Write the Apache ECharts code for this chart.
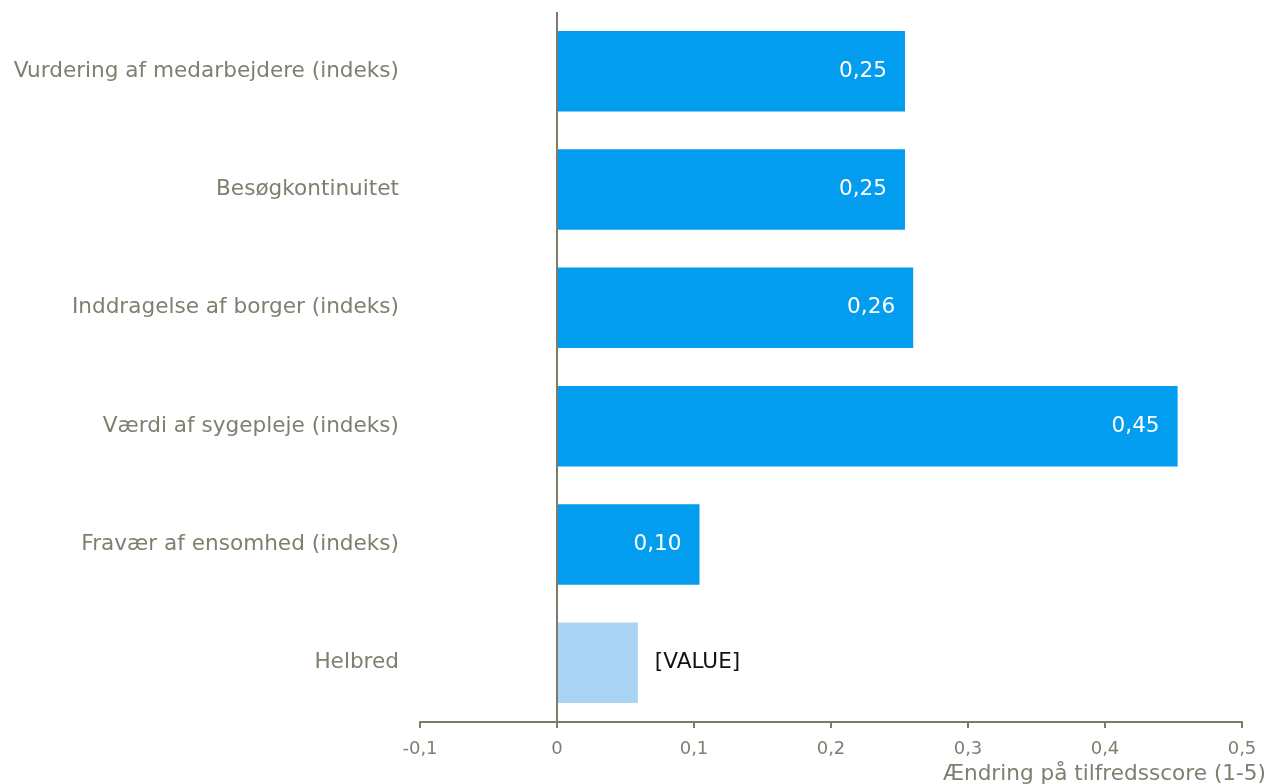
<!DOCTYPE html>
<html><head><meta charset="utf-8">
<script src="https://cdn.jsdelivr.net/npm/echarts@6/dist/echarts.min.js"></script>
<style>html,body{margin:0;padding:0;background:#fff}#c{width:1269px;height:784px}</style>
</head><body><div id="c"></div>
<script>
const categories = ["Helbred","Fravær af ensomhed (indeks)","Værdi af sygepleje (indeks)","Inddragelse af borger (indeks)","Besøgkontinuitet","Vurdering af medarbejdere (indeks)"];
const values = [0.059, 0.104, 0.453, 0.26, 0.254, 0.254];
const labelTexts = ["[VALUE]", null, null, null, null, null];
const xTicks = { min: -0.1, max: 0.5, interval: 0.1 };
const axisName = "Ændring på tilfredsscore (1-5)";

const txt = '#7f7f6f', axisCol = '#7f7a6a';
const font = '"DejaVu Sans", Verdana, sans-serif';
const chart = echarts.init(document.getElementById('c'));
const data = values.map((v, i) => {
  const isFirst = labelTexts[i] !== null;
  return {
    value: v,
    itemStyle: { color: isFirst ? '#a9d4f4' : '#039def' },
    label: isFirst ? { position: 'right', distance: 17, color: '#111', formatter: labelTexts[i] }
                   : { position: 'insideRight', distance: 18, color: '#fff', formatter: p => p.value.toFixed(2).replace('.', ',') }
  };
});
chart.setOption({
  animation: false,
  grid: { left: 420, right: 27, top: 12, bottom: 62, containLabel: false, outerBoundsMode: 'none' },
  xAxis: {
    type: 'value', min: xTicks.min, max: xTicks.max, interval: xTicks.interval,
    axisLine: { show: true, lineStyle: { color: axisCol, width: 2 } },
    axisTick: { show: true, length: 6, lineStyle: { color: axisCol, width: 2 } },
    splitLine: { show: false },
    axisLabel: { color: txt, fontSize: 18, fontFamily: font, margin: 18,
      formatter: v => String(Math.round(v * 10) / 10).replace('.', ',') },
    name: axisName, nameLocation: 'end', nameGap: 24,
    nameTextStyle: { color: txt, fontSize: 21.6, fontFamily: font, align: 'right', verticalAlign: 'top', padding: [41, 0, 0, 0] }
  },
  yAxis: {
    type: 'category', data: categories,
    axisLine: { show: false }, axisTick: { show: false },
    axisLabel: { color: txt, fontSize: 21.6, fontFamily: font, margin: 21 }
  },
  series: [{
    type: 'bar', data: data, barCategoryGap: '32%',
    label: { show: true, fontSize: 21.6, fontFamily: font },
    markLine: { silent: true, symbol: 'none', label: { show: false },
      lineStyle: { color: axisCol, width: 2, type: 'solid' }, data: [{ xAxis: 0 }] }
  }]
});
</script></body></html>
